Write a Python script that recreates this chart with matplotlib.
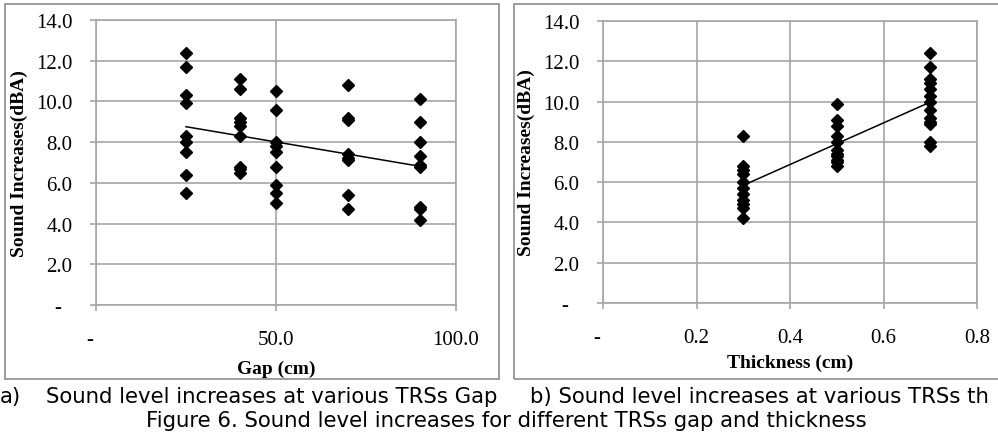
import matplotlib
matplotlib.use("Agg")
import matplotlib.pyplot as plt
import numpy as np
from matplotlib.patches import Rectangle
from matplotlib.ticker import FuncFormatter, MultipleLocator

# data
gap_25 = [12.4, 11.7, 10.3, 9.9, 8.3, 8.0, 7.5, 6.4, 5.5]
gap_40 = [11.1, 10.6, 9.2, 9.0, 8.8, 8.3, 6.8, 6.7, 6.5]
gap_50 = [10.5, 9.6, 8.0, 7.8, 7.5, 6.8, 5.9, 5.5, 5.0]
gap_70 = [10.8, 9.2, 9.1, 7.4, 7.2, 7.1, 5.4, 4.7]
gap_90 = [10.1, 9.0, 8.0, 7.3, 6.9, 6.8, 4.8, 4.7, 4.2]
gap_levels = [25, 40, 50, 70, 90]

thk_03 = [8.3, 6.8, 6.6, 6.4, 6.0, 5.7, 5.4, 5.1, 4.9, 4.7, 4.2]
thk_05 = [9.9, 9.1, 8.8, 8.3, 8.0, 7.6, 7.4, 7.3, 7.1, 7.0, 6.8]
thk_07 = [12.4, 11.7, 11.1, 10.9, 10.6, 10.3, 10.0, 9.6, 9.2, 9.0, 8.9, 8.0, 7.8]
thk_levels = [0.3, 0.5, 0.7]

W, H = 998, 439
fig = plt.figure(figsize=(W / 100, H / 100), dpi=100)
fig.patch.set_facecolor("white")

serif = "Liberation Serif"
sans = "DejaVu Sans"
grey = "#a6a6a6"


def px_axes(x0, y0, x1, y1):
    # pixel box (top-left origin) -> figure fraction
    return fig.add_axes([x0 / W, 1 - y1 / H, (x1 - x0) / W, (y1 - y0) / H])


def fmt(v, pos):
    if abs(v) < 1e-9:
        return "-  "
    return "%.1f" % v


def style(ax, xmax, xstep, xlabel, lpad):
    ax.set_ylim(0, 14)
    ax.set_xlim(0, xmax)
    ax.yaxis.set_major_locator(MultipleLocator(2))
    ax.xaxis.set_major_locator(MultipleLocator(xstep))
    ax.yaxis.set_major_formatter(FuncFormatter(fmt))
    ax.xaxis.set_major_formatter(FuncFormatter(fmt))
    ax.grid(True, color=grey, lw=1.2)
    ax.set_axisbelow(True)
    for s in ax.spines.values():
        s.set_color(grey)
        s.set_linewidth(1.2)
    ax.tick_params(axis="y", length=4, width=1.2, color=grey, pad=13,
                   labelsize=15, labelfontfamily=serif)
    ax.tick_params(axis="x", length=4, width=1.2, color=grey, pad=14,
                   labelsize=15, labelfontfamily=serif)
    ax.set_xlabel(xlabel, fontfamily=serif, fontweight="bold", fontsize=14,
                  labelpad=lpad)
    ax.set_ylabel("Sound Increases(dBA)", fontfamily=serif, fontweight="bold",
                  fontsize=14, labelpad=6)


def scatter_with_trend(ax, levels, groups):
    xs, ys = [], []
    for lv, g in zip(levels, groups):
        xs += [lv] * len(g)
        ys += list(g)
    xs = np.array(xs, dtype=float)
    ys = np.array(ys, dtype=float)
    ax.plot(xs, ys, linestyle="none", marker="D", markersize=6,
            color="black", zorder=3)
    k, b = np.polyfit(xs, ys, 1)
    xl = np.array([min(levels), max(levels)], dtype=float)
    ax.plot(xl, k * xl + b, color="black", lw=1.1, zorder=4)


# frames around the two chart objects
fig.add_artist(Rectangle((5 / W, 1 - 380 / H), 494 / W, 375 / H,
                         transform=fig.transFigure, fill=False,
                         edgecolor="#8c8c8c", lw=1.2))
fig.add_artist(Rectangle((514 / W, 1 - 380 / H), 500 / W, 375 / H,
                         transform=fig.transFigure, fill=False,
                         edgecolor="#8c8c8c", lw=1.2))

ax1 = px_axes(96, 21, 456, 306)
style(ax1, 100, 50, "Gap (cm)", 8)
scatter_with_trend(ax1, gap_levels, [gap_25, gap_40, gap_50, gap_70, gap_90])

ax2 = px_axes(603, 22, 977, 304)
style(ax2, 0.8, 0.2, "Thickness (cm)", 5)
scatter_with_trend(ax2, thk_levels, [thk_03, thk_05, thk_07])

# captions
cap = dict(fontfamily=sans, fontsize=15.3, va="center", color="black")
fig.text(0 / W, 1 - 397 / H, "a)", ha="left", **cap)
fig.text(46 / W, 1 - 397 / H, "Sound level increases at various TRSs Gap",
         ha="left", **cap)
fig.text(530 / W, 1 - 397 / H,
         "b) Sound level increases at various TRSs th", ha="left", **cap)
fig.text(506 / W, 1 - 421 / H,
         "Figure 6. Sound level increases for different TRSs gap and thickness",
         ha="center", **cap)

fig.savefig("out.png", dpi=100, facecolor="white")
